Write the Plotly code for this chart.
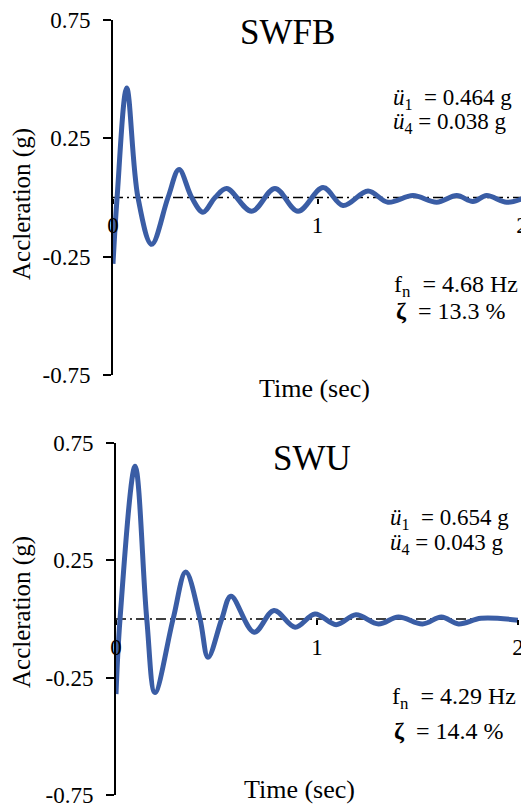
import plotly.graph_objects as go

# ---------------- data ----------------
swfb_time = [0.000, 0.020, 0.067, 0.122, 0.189, 0.269, 0.323, 0.385, 0.440, 0.499,
             0.556, 0.678, 0.792, 0.905, 1.027, 1.125, 1.247, 1.345, 1.467, 1.583,
             1.681, 1.760, 1.827, 1.925, 2.000]
swfb_accel = [-0.280, 0.000, 0.463, 0.000, -0.198, 0.000, 0.118, 0.000, -0.062, 0.000,
              0.038, -0.058, 0.038, -0.058, 0.042, -0.034, 0.027, -0.020, 0.008, -0.020,
              0.008, -0.017, 0.008, -0.020, -0.005]

swu_time = [0.000, 0.020, 0.095, 0.153, 0.194, 0.284, 0.347, 0.418, 0.458, 0.526,
            0.572, 0.687, 0.786, 0.891, 0.990, 1.095, 1.194, 1.306, 1.405, 1.525,
            1.619, 1.704, 1.816, 2.000]
swu_accel = [-0.320, 0.000, 0.651, 0.000, -0.313, 0.000, 0.200, 0.000, -0.163, 0.000,
             0.097, -0.056, 0.036, -0.035, 0.021, -0.024, 0.018, -0.021, 0.009, -0.021,
             0.008, -0.021, 0.003, -0.005]

panel_titles = ["SWFB", "SWU"]
peak_1 = ["0.464", "0.654"]
peak_4 = ["0.038", "0.043"]
nat_freq = ["4.68", "4.29"]
damping = ["13.3", "14.4"]

y_tick_vals = [-0.75, -0.25, 0.25, 0.75]
y_tick_text = ["-0.75", "-0.25", "0.25", "0.75"]
x_tick_vals = [0, 1, 2]
x_tick_text = ["0", "1", "2"]
y_title = "Accleration (g)"
x_title = "Time (sec)"

# ---------------- layout helpers ----------------
# the page body has an 8px default margin: the figure starts 8px in and
# runs to the window's right/bottom edge
OFF = 8
W, H = 529 - OFF, 805 - OFF
FONT = "Liberation Serif, Times New Roman, serif"
BLUE = "#3A5DA5"


def px(x):
    return (x - OFF) / W


def py(y):
    return 1 - (y - OFF) / H


# window-pixel boxes of the two plot areas: (x_left, x_right, y_top, y_bottom)
boxes = [(113, 522, 20, 375), (116, 518, 443, 795)]

fig = go.Figure()
series = [(swfb_time, swfb_accel), (swu_time, swu_accel)]

annotations = []
shapes = []
for i, ((t, a), (xl, xr, yt, yb)) in enumerate(zip(series, boxes)):
    sfx = "" if i == 0 else str(i + 1)
    xa, ya = "x" + sfx, "y" + sfx
    fig.add_trace(go.Scatter(
        x=t, y=a, xaxis=xa, yaxis=ya, mode="lines",
        line=dict(color=BLUE, width=5, shape="spline", smoothing=1.0),
        showlegend=False, hoverinfo="skip"))

    ydom = [py(yb), py(yt)]
    xdom = [px(xl), min(px(xr), 1.0)]
    zero_pos = ydom[0] + (ydom[1] - ydom[0]) * 0.5

    fig.layout["xaxis" + sfx] = dict(
        domain=xdom, range=[0, 2], anchor="free", position=zero_pos,
        showline=False, showgrid=False, zeroline=False,
        tickvals=x_tick_vals, ticktext=x_tick_text,
        ticks="outside", ticklen=5, tickwidth=1.5, tickcolor="black",
        ticklabelstandoff=2, ticklabeloverflow="allow",
        tickfont=dict(family=FONT, size=23, color="black"),
        automargin=False, fixedrange=True)
    fig.layout["yaxis" + sfx] = dict(
        domain=ydom, range=[-0.75, 0.75], anchor=xa,
        showline=True, linecolor="black", linewidth=2,
        showgrid=False, zeroline=False,
        tickvals=y_tick_vals, ticktext=y_tick_text,
        ticks="outside", ticklen=8, tickwidth=2, tickcolor="black",
        ticklabelstandoff=8, ticklabeloverflow="allow",
        tickfont=dict(family=FONT, size=23, color="black"),
        automargin=False, fixedrange=True)

    # dash-dot zero line
    shapes.append(dict(type="line", xref=xa, yref=ya, x0=0, x1=2, y0=0, y1=0,
                       line=dict(color="black", width=1.5, dash="10px,4px,2px,4px"),
                       layer="below"))

    # panel title
    tx, ty = [(287, 33), (312, 459)][i]
    annotations.append(dict(text=panel_titles[i], x=px(tx), y=py(ty), xref="paper", yref="paper",
                            xanchor="center", yanchor="middle", showarrow=False,
                            font=dict(family=FONT, size=35, color="black")))
    # peak accelerations
    font_u = dict(family=FONT, size=23, color="black")
    u1y, u4y = [(99, 123), (519, 544)][i]
    lx = [391, 388][i]
    annotations.append(dict(text="<i>ü</i><sub>1</sub>  = " + peak_1[i] + " g",
                            x=px(lx), y=py(u1y), xref="paper", yref="paper",
                            xanchor="left", yanchor="middle", showarrow=False, font=font_u))
    annotations.append(dict(text="<i>ü</i><sub>4</sub> = " + peak_4[i] + " g",
                            x=px(lx), y=py(u4y), xref="paper", yref="paper",
                            xanchor="left", yanchor="middle", showarrow=False, font=font_u))
    # frequency and damping
    font_f = dict(family=FONT, size=24, color="black")
    fy, zy = [(286, 311), (698, 731)][i]
    lx2 = [392, 390][i]
    annotations.append(dict(text="f<sub>n</sub>  = " + nat_freq[i] + " Hz",
                            x=px(lx2), y=py(fy), xref="paper", yref="paper",
                            xanchor="left", yanchor="middle", showarrow=False, font=font_f))
    annotations.append(dict(text="<b>ζ</b>  = " + damping[i] + " %",
                            x=px(lx2 + 2), y=py(zy), xref="paper", yref="paper",
                            xanchor="left", yanchor="middle", showarrow=False, font=font_f))
    # axis titles
    xtx, xty = [(314, 388), (299, 789)][i]
    annotations.append(dict(text=x_title, x=px(xtx), y=py(xty), xref="paper", yref="paper",
                            xanchor="center", yanchor="middle", showarrow=False,
                            font=dict(family=FONT, size=26, color="black")))
    ytx, yty = [(22, 204), (22, 612)][i]
    annotations.append(dict(text=y_title, x=px(ytx), y=py(yty), xref="paper", yref="paper",
                            xanchor="center", yanchor="middle", showarrow=False, textangle=-90,
                            font=dict(family=FONT, size=25, color="black")))

fig.update_layout(
    width=W, height=H,
    margin=dict(l=0, r=0, t=0, b=0),
    paper_bgcolor="white", plot_bgcolor="white",
    annotations=annotations, shapes=shapes,
    font=dict(family=FONT, color="black"),
)

fig.write_html("out.html")
